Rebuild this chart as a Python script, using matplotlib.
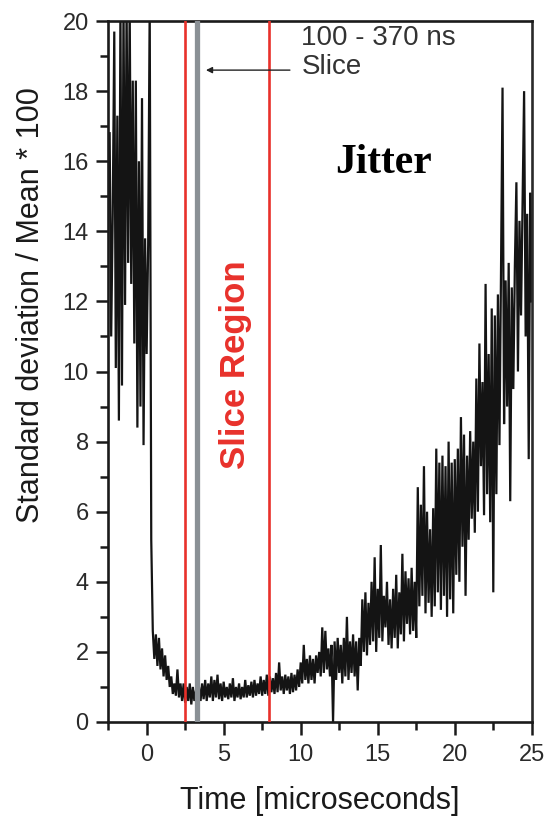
import numpy as np
import matplotlib
matplotlib.use("Agg")
import matplotlib.pyplot as plt
from matplotlib.ticker import MultipleLocator

plt.rcParams['font.family'] = ['Liberation Sans', 'DejaVu Sans']

# ---- data ----
time_start = -2.4      # microseconds
time_step = 0.1
jitter = [
    16.8, 11.0, 14.5, 19.7,                                   # -2.4 .. -2.1
    10.1, 17.3, 8.6, 20.5, 9.6, 20.5, 11.9, 20.5, 13.1, 20.5,  # -2.0 .. -1.1
    12.5, 18.3, 10.8, 18.3, 8.4, 16.0, 9.0, 17.8, 7.9, 13.8,   # -1.0 .. -0.1
    10.5, 13.6, 20.5, 5.2, 2.6, 1.8, 2.5, 1.6, 2.4, 1.5,       # 0.0 .. 0.9
    2.1, 1.3, 1.9, 1.2, 1.6, 1.0, 1.3, 0.8, 1.1, 0.75,         # 1
    1.5, 0.7, 1.1, 0.6, 1.1, 0.55, 1.0, 0.6, 1.1, 0.5,         # 2
    1.0, 0.6, 0.9, 0.55, 1.0, 0.6, 1.1, 0.65, 1.2, 0.6,        # 3
    1.1, 0.7, 1.3, 0.6, 1.2, 0.7, 1.35, 0.65, 1.1, 0.6,        # 4
    1.15, 0.7, 1.0, 0.65, 1.1, 0.7, 1.25, 0.6, 1.0, 0.7,       # 5
    1.1, 0.65, 1.0, 0.7, 1.2, 0.7, 1.05, 0.75, 1.15, 0.7,      # 6
    1.2, 0.75, 1.1, 0.8, 1.3, 0.75, 1.2, 0.8, 1.35, 0.75,      # 7
    1.3, 0.85, 1.25, 0.8, 1.4, 0.85, 1.7, 0.9, 1.3, 0.8,       # 8
    1.35, 0.9, 1.3, 0.8, 1.4, 0.85, 1.35, 0.9, 1.5, 1.0,       # 9
    1.7, 1.1, 2.2, 1.2, 1.8, 1.1, 1.9, 1.2, 1.8, 1.1,          # 10
    1.9, 1.4, 2.0, 1.3, 2.7, 1.4, 2.6, 1.5, 2.1, 1.3,          # 11
    2.2, 0.0, 2.3, 1.2, 2.4, 1.4, 2.2, 1.1, 2.4, 1.3,          # 12
    3.0, 1.2, 2.3, 1.4, 2.5, 1.3, 2.3, 0.9, 2.4, 1.6,          # 13
    3.5, 2.0, 3.7, 1.9, 3.4, 2.2, 4.0, 2.3, 4.7, 2.0,          # 14
    3.8, 2.4, 5.05, 2.3, 3.6, 2.7, 4.0, 2.2, 3.5, 2.1,         # 15
    3.8, 2.4, 4.2, 2.1, 3.7, 2.5, 4.8, 2.3, 4.3, 2.8,          # 16
    4.1, 2.5, 4.4, 2.6, 4.0, 2.4, 6.7, 3.3, 6.2, 3.6,          # 17
    7.3, 3.1, 6.0, 3.4, 5.5, 3.0, 6.1, 3.3, 7.8, 3.7,          # 18
    7.4, 3.2, 7.6, 3.6, 7.3, 3.0, 8.0, 3.5, 7.4, 3.1,          # 19
    7.5, 4.2, 7.8, 4.0, 8.7, 5.0, 8.2, 3.6, 7.6, 5.2,          # 20
    8.3, 5.8, 8.0, 5.4, 9.8, 6.0, 10.8, 7.3, 9.7, 5.9,         # 21
    12.5, 6.5, 10.5, 5.7, 11.8, 3.7, 11.6, 6.5, 12.2, 7.9,     # 22
    12.8, 18.1, 8.5, 12.6, 9.0, 13.1, 6.3, 12.4, 9.5, 13.0,    # 23
    15.4, 10.0, 14.3, 11.6, 14.7, 18.0, 11.0, 14.5, 7.5, 15.1, # 24
    12.0,                                                      # 25
]
slice_region = [2.5, 7.92]     # red lines
slice_100_370 = 3.3            # gray line
x_ticks = [0, 5, 10, 15, 20, 25]
y_ticks = [0, 2, 4, 6, 8, 10, 12, 14, 16, 18, 20]

time = np.round(time_start + time_step * np.arange(len(jitter)), 2)

# ---- figure ----
fig = plt.figure(figsize=(5.46, 8.16), dpi=100)
ax = fig.add_axes([0.198, 0.1152, 0.776, 0.859])

ax.plot(time, jitter, color='#141414', lw=1.6, zorder=2, solid_joinstyle='miter')

for xv in slice_region:
    ax.axvline(xv, color='#e8312b', lw=1.9, zorder=3)
ax.axvline(slice_100_370, color='#8a9095', lw=3.8, zorder=3)

ax.set_xlim(-2.5, 25)
ax.set_ylim(0, 20)
ax.set_xticks(x_ticks)
ax.set_yticks(y_ticks)
ax.xaxis.set_minor_locator(MultipleLocator(2.5))
ax.yaxis.set_minor_locator(MultipleLocator(1))
ax.tick_params(which='major', direction='out', length=9, width=1.8,
               labelsize=17, colors='#1a1a1a', labelcolor='#2a2a2a', pad=5)
ax.tick_params(which='minor', direction='out', length=5.5, width=1.8,
               colors='#1a1a1a')
ax.tick_params(axis='x', which='major', pad=7)
ax.tick_params(top=False, right=False, which='both')
for s in ['left', 'bottom', 'top']:
    ax.spines[s].set_linewidth(1.9)
    ax.spines[s].set_color('#1a1a1a')
ax.spines['right'].set_linewidth(1.9)
ax.spines['right'].set_color('#2a2a2a')

ax.set_xlabel('Time [microseconds]', fontsize=22, color='#1a1a1a', labelpad=14)
ax.set_ylabel('Standard deviation / Mean * 100', fontsize=22, color='#1a1a1a')
ax.yaxis.set_label_coords(-0.146, 0.595)

# annotations
ax.annotate('', xy=(3.85, 18.6), xytext=(9.3, 18.6),
            arrowprops=dict(arrowstyle='-|>', color='#222222', lw=1.0,
                            mutation_scale=9, shrinkA=0, shrinkB=0), zorder=4)
ax.text(10.05, 18.49, '100 - 370 ns\nSlice', fontsize=20, color='#333333',
        ha='left', va='baseline', linespacing=1.15)
ax.text(15.35, 15.66, 'Jitter', fontsize=30, fontweight='bold',
        family=['Liberation Serif', 'DejaVu Serif'], color='black',
        ha='center', va='baseline')
ax.text(5.8, 10.2, 'Slice Region', fontsize=25, fontweight='bold',
        color='#e8312b', rotation=90, ha='center', va='center')

fig.savefig('out.png', dpi=100)
